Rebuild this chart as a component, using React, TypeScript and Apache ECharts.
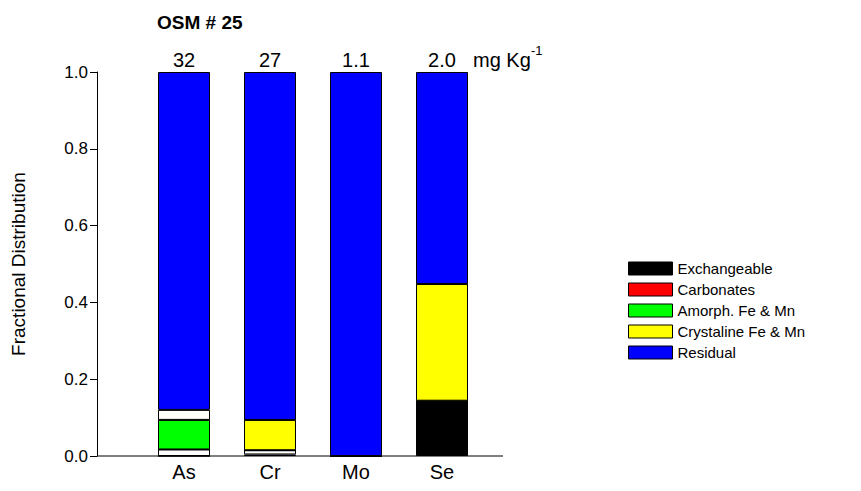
import React, { useEffect, useRef } from 'react';
import * as echarts from 'echarts';

const elements = ['As', 'Cr', 'Mo', 'Se'];
const totals = ['32', '27', '1.1', '2.0'];
const exchangeable = [0, 0.004, 0, 0.144];
const gapLow = [0.017, 0.011, 0, 0];
const carbonates = [0, 0, 0, 0];
const amorph = [0.077, 0, 0, 0];
const crystaline = [0, 0.079, 0, 0.304];
const gapHigh = [0.026, 0, 0, 0];
const residual = [0.88, 0.906, 1, 0.552];

const FONT = 'Liberation Sans, Arial, sans-serif';

export default function App() {
  const ref = useRef<HTMLDivElement>(null);

  useEffect(() => {
    document.body.style.margin = '0';
    if (!ref.current) return;
    const chart = echarts.init(ref.current, null, { renderer: 'svg' });

    const mk = (name: string, values: number[], color: string) => ({
      name,
      type: 'bar',
      stack: 'total',
      barWidth: 52,
      data: values,
      itemStyle: { color, borderColor: '#000', borderWidth: 1 },
    });

    chart.setOption({
      animation: false,
      textStyle: { fontFamily: FONT },
      grid: { left: 141, top: 72, width: 344, height: 384 },
      title: {
        text: 'OSM # 25',
        left: 152,
        top: 8,
        textStyle: { fontSize: 19, fontWeight: 'bold', color: '#000', fontFamily: FONT },
      },
      legend: {
        orient: 'vertical',
        left: 623,
        top: 256,
        itemWidth: 44,
        itemHeight: 13,
        itemGap: 6,
        icon: 'rect',
        data: ['Exchangeable', 'Carbonates', 'Amorph. Fe & Mn', 'Crystaline Fe & Mn', 'Residual'],
        textStyle: { fontSize: 15, color: '#000', fontFamily: FONT },
        itemStyle: { borderColor: '#000', borderWidth: 1 },
      },
      xAxis: {
        type: 'category',
        data: elements,
        axisTick: { show: false },
        axisLine: { show: false },
        axisLabel: { fontSize: 20, color: '#000', margin: 6 },
      },
      yAxis: {
        type: 'value',
        min: 0,
        max: 1,
        interval: 0.2,
        offset: 44,
        name: 'Fractional Distribution',
        nameLocation: 'middle',
        nameGap: 69,
        nameTextStyle: { fontSize: 19, color: '#000', fontFamily: FONT },
        splitLine: { show: false },
        axisLine: { show: true, lineStyle: { color: '#000' } },
        axisTick: { show: true, length: 7, lineStyle: { color: '#000' } },
        axisLabel: { fontSize: 17, color: '#000', margin: 9, formatter: (v: number) => v.toFixed(1) },
      },
      graphic: [
        {
          type: 'line',
          shape: { x1: 97, y1: 456, x2: 503, y2: 456 },
          style: { stroke: '#000', lineWidth: 1 },
        },
        ...totals.map((t, i) => ({
          type: 'text',
          x: 184 + i * 86,
          y: 70,
          style: { text: t, fill: '#000', font: `20px ${FONT}`, align: 'center', verticalAlign: 'bottom' },
        })),
        {
          type: 'text',
          x: 473,
          y: 70,
          style: { text: 'mg Kg', fill: '#000', font: `20px ${FONT}`, align: 'left', verticalAlign: 'bottom' },
        },
        {
          type: 'text',
          x: 531,
          y: 57,
          style: { text: '-1', fill: '#000', font: `13px ${FONT}`, align: 'left', verticalAlign: 'bottom' },
        },
      ],
      series: [
        mk('Exchangeable', exchangeable, '#000000'),
        mk('gapLow', gapLow, '#ffffff'),
        mk('Carbonates', carbonates, '#ff0000'),
        mk('Amorph. Fe & Mn', amorph, '#00ff00'),
        mk('Crystaline Fe & Mn', crystaline, '#ffff00'),
        mk('gapHigh', gapHigh, '#ffffff'),
        mk('Residual', residual, '#0000ff'),
      ],
    });

    return () => chart.dispose();
  }, []);

  return <div ref={ref} style={{ width: 861, height: 491 }} />;
}
